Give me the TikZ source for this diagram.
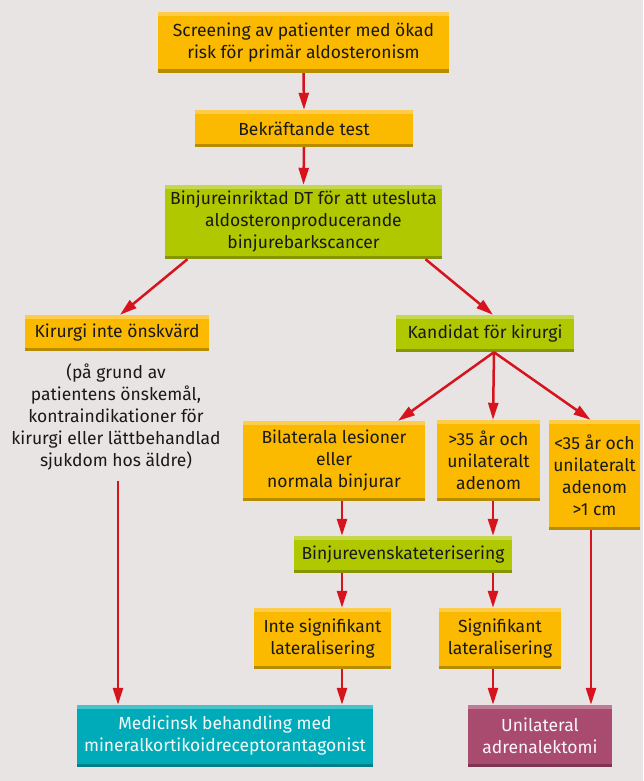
\documentclass[tikz,border=0pt]{standalone}
\usepackage{fontspec}
\setmainfont{Fira Sans}
\usepackage{tikz}
\usetikzlibrary{arrows.meta, positioning}
\definecolor{bggray}{HTML}{E9E4E4}
\definecolor{arrowred}{HTML}{D7141D}
\definecolor{orangemain}{HTML}{FBBA00}
\definecolor{orangetop}{HTML}{FDCC4A}
\definecolor{orangedark}{HTML}{B98C00}
\definecolor{greenmain}{HTML}{B0C800}
\definecolor{greentop}{HTML}{C5D84C}
\definecolor{greendark}{HTML}{869600}
\definecolor{cyanmain}{HTML}{00ABB9}
\definecolor{cyantop}{HTML}{45C2CC}
\definecolor{cyandark}{HTML}{007E88}
\definecolor{plummain}{HTML}{A94B6F}
\definecolor{plumtop}{HTML}{C07A96}
\definecolor{plumdark}{HTML}{7D3552}

\tikzset{
  stripbox/.style n args={3}{rectangle, fill=#1, inner sep=0pt, align=center,
    path picture={
      \fill[#2] (path picture bounding box.north west) rectangle ([yshift=-4pt]path picture bounding box.north east);
      \fill[#3] (path picture bounding box.south west) rectangle ([yshift=3.5pt]path picture bounding box.south east);
    }},
  orangebox/.style={stripbox={orangemain}{orangetop}{orangedark}, text=black!90},
  greenbox/.style={stripbox={greenmain}{greentop}{greendark}, text=black!90},
  cyanbox/.style={stripbox={cyanmain}{cyantop}{cyandark}, text=white!95!cyanmain},
  plumbox/.style={stripbox={plummain}{plumtop}{plumdark}, text=white!95!plummain},
  flow/.style={->, draw=arrowred, line width=2.5pt}
}

\begin{document}
\begin{tikzpicture}[x=1pt, y=-1pt, >={Triangle[length=17pt, width=10pt]},
  font=\fontsize{17.5}{22}\selectfont]
  % Bakgrund
  \fill[bggray] (0,0) rectangle (643,781);
  % Rutor
  \node[orangebox, minimum width=291pt, minimum height=61pt] (screen) at (303.5,42.5)
    {Screening av patienter med ökad\\risk för primär aldosteronism};
  \node[orangebox, minimum width=218pt, minimum height=37pt] (confirm) at (304,128.5)
    {Bekräftande test};
  \node[greenbox, minimum width=277pt, minimum height=74pt] (dt) at (303.5,222)
    {Binjureinriktad DT för att utesluta\\aldosteronproducerande\\binjurebarkscancer};
  \node[orangebox, minimum width=184pt, minimum height=36pt] (nosurg) at (117,333)
    {Kirurgi inte önskvärd};
  \node[greenbox, minimum width=178pt, minimum height=37pt] (cand) at (485,333.5)
    {Kandidat för kirurgi};
  \node[align=center, inner sep=0pt, anchor=north, text=black!90] (reason) at (116,364)
    {(på grund av\\patientens önskemål,\\kontraindikationer för\\kirurgi eller lättbehandlad\\sjukdom hos äldre)};
  \node[orangebox, minimum width=182pt, minimum height=80pt] (bilat) at (334,461)
    {Bilaterala lesioner\\eller\\normala binjurar};
  \node[orangebox, minimum width=103pt, minimum height=81pt] (over) at (488.5,460.5)
    {>35 år och\\unilateralt\\adenom};
  \node[orangebox, minimum width=91pt, minimum height=110pt] (under) at (594.5,475)
    {<35 år och\\unilateralt\\adenom\\>1 cm};
  \node[greenbox, minimum width=218pt, minimum height=37pt] (avs) at (403,554.5)
    {Binjurevenskateterisering};
  \node[orangebox, minimum width=137pt, minimum height=61pt] (nolat) at (322.5,638.5)
    {Inte signifikant\\lateralisering};
  \node[orangebox, minimum width=122pt, minimum height=61pt] (lat) at (500,638.5)
    {Signifikant\\lateralisering};
  \node[cyanbox, minimum width=296pt, minimum height=62pt] (med) at (225,736)
    {Medicinsk behandling med\\mineralkortikoidreceptorantagonist};
  \node[plumbox, minimum width=144pt, minimum height=62pt] (adx) at (540,736)
    {Unilateral\\adrenalektomi};
  % Kolumner för lodräta pilar
  \coordinate (colA) at (118,0);
  \coordinate (colB) at (342,0);
  \coordinate (colC) at (493,0);
  \coordinate (colD) at (591,0);
  % Pilar
  \draw[flow] (screen.south) -- (confirm.north);
  \draw[flow] (confirm.south) -- (dt.north);
  \draw[flow] ([xshift=-116pt]dt.south) -- ([xshift=3pt]nosurg.north);
  \draw[flow] ([xshift=122pt]dt.south) -- ([xshift=8pt]cand.north);
  \draw[flow] ([xshift=9pt]cand.south) -- ([xshift=64pt]bilat.north);
  \draw[flow] ([xshift=9pt]cand.south) -- (over.north -| colC);
  \draw[flow] ([xshift=9pt]cand.south) -- ([xshift=-4pt]under.north);
  \draw[flow] (bilat.south -| colB) -- (avs.north -| colB);
  \draw[flow] (over.south -| colC) -- (avs.north -| colC);
  \draw[flow] (avs.south -| colB) -- (nolat.north -| colB);
  \draw[flow] (avs.south -| colC) -- (lat.north -| colC);
  \draw[flow] (nolat.south -| colB) -- (med.north -| colB);
  \draw[flow] (lat.south -| colC) -- (adx.north -| colC);
  \draw[flow] (under.south -| colD) -- (adx.north -| colD);
  \draw[flow] (reason.south -| colA) ++(0,10) -- (med.north -| colA);
\end{tikzpicture}
\end{document}
